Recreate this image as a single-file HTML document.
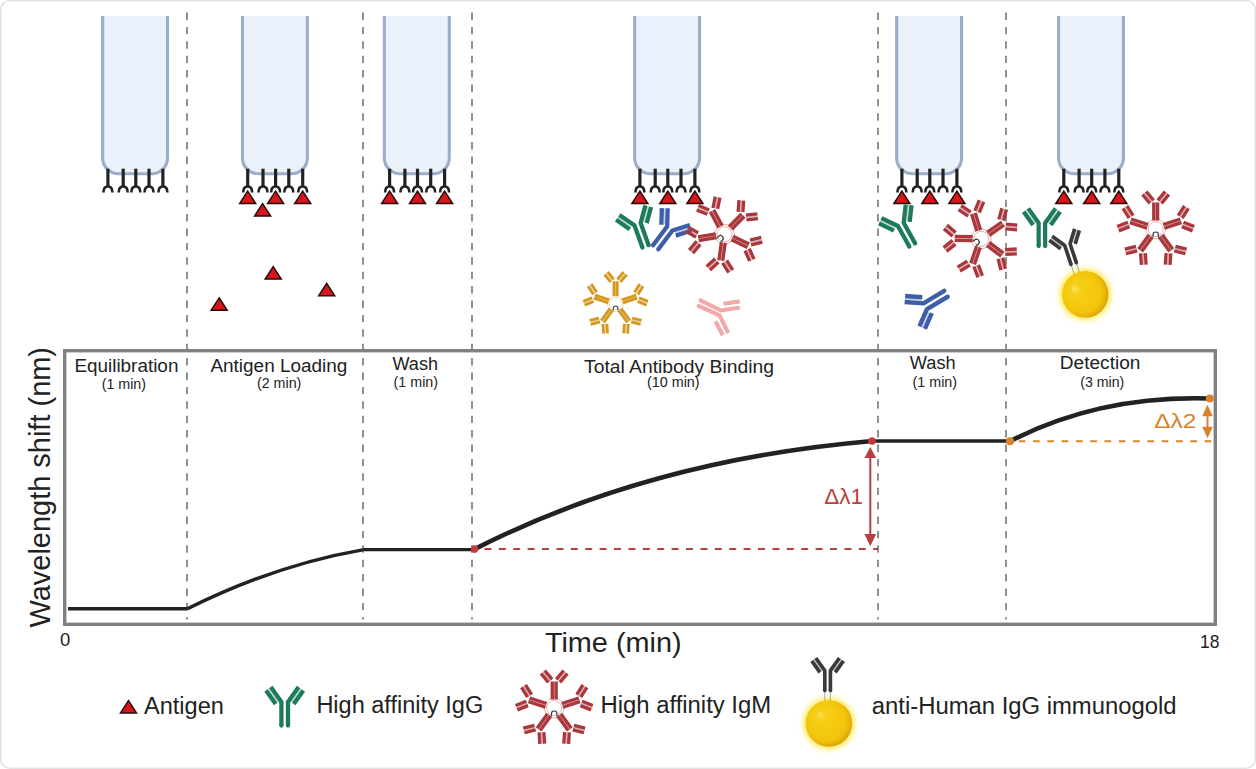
<!DOCTYPE html>
<html><head><meta charset="utf-8">
<style>
html,body{margin:0;padding:0;background:#fff;}
body{width:1256px;height:769px;overflow:hidden;}
svg{display:block;}
text{font-family:"Liberation Sans",sans-serif;}
</style></head>
<body>
<svg width="1256" height="769" viewBox="0 0 1256 769">
<defs>
  <!-- IgG: hinge at origin, stem toward +y -->
  <g id="igg" fill="none" stroke="currentColor" stroke-width="4.3" stroke-linejoin="round">
    <path d="M-6.88 -0.03L-16.26 -13.24M6.88 -0.03L16.26 -13.24" stroke-width="1.3" stroke-opacity="0.3"/>
    <path d="M-3.3 23.5V0L-13.9 -14.9M3.3 23.5V0L13.9 -14.9" />
    <path d="M-9 2.1L-18.6 -11.5M9 2.1L18.6 -11.5"/>
    <circle cx="-3.3" cy="23.5" r="2.15" fill="currentColor" stroke="none"/>
    <circle cx="3.3" cy="23.5" r="2.15" fill="currentColor" stroke="none"/>
  </g>
  <!-- IgM single Y pointing up, center origin -->
  <g id="ym" fill="none" stroke="currentColor" stroke-width="3.3">
    <path d="M0 -8.5V-26.5M-3.95 -27.1L-11.35 -36M3.95 -27.1L11.35 -36" stroke-width="1.6" stroke-opacity="0.4"/>
    <path d="M-1.95 -8.5V-26.5M1.95 -8.5V-26.5"/>
    <path d="M-2.1 -28.6L-9.5 -37.5M-5.8 -25.6L-13.2 -34.5"/>
    <path d="M2.1 -28.6L9.5 -37.5M5.8 -25.6L13.2 -34.5"/>
  </g>
  <g id="igm">
    <polygon points="0,-12 11.41,-3.71 7.05,9.71 -7.05,9.71 -11.41,-3.71" fill="none" stroke="currentColor" stroke-width="0.7" opacity="0.55"/>
    <use href="#ym"/>
    <use href="#ym" transform="rotate(72)"/>
    <use href="#ym" transform="rotate(144)"/>
    <use href="#ym" transform="rotate(216)"/>
    <use href="#ym" transform="rotate(288)"/>
    <circle r="7.5" fill="#fff" stroke="currentColor" stroke-width="0.8" stroke-opacity="0.45"/>
    <path d="M-2.7 8.3V5.7A2.7 2.7 0 0 1 2.7 5.7V8.3" fill="none" stroke="#3a3a3a" stroke-width="1.2"/>
  </g>
  <g id="recep" fill="none" stroke="#222" stroke-linecap="butt">
    <path d="M0 168.7V187" stroke-width="3.2"/>
    <path d="M-4.5 192.6C-4.5 188.6 -3 186.5 0 186.5C3 186.5 4.5 188.6 4.5 192.6" stroke-width="2.6"/>
  </g>
  <polygon id="tri" points="0,-6.2 8,6.2 -8,6.2" fill="#d7161c" stroke="#2a0808" stroke-width="1.5" stroke-linejoin="miter"/>
  <g id="tube">
    <path d="M1.55 16V158A15.8 15.8 0 0 0 17.35 173.8H50.65A15.8 15.8 0 0 0 66.45 158V16" fill="#eaf1fb" stroke="#9badc9" stroke-width="3.1"/>
    <use href="#recep" x="6.8"/>
    <use href="#recep" x="22.1"/>
    <use href="#recep" x="34.7"/>
    <use href="#recep" x="47.9"/>
    <use href="#recep" x="61.8"/>
  </g>
  <g id="tubeag">
    <use href="#tube"/>
    <use href="#tri" x="6.8" y="197.3"/>
    <use href="#tri" x="34.7" y="197.3"/>
    <use href="#tri" x="61.8" y="197.3"/>
  </g>
  <radialGradient id="goldg" cx="0.46" cy="0.46" r="0.54" fx="0.3" fy="0.3">
    <stop offset="0" stop-color="#fae35a"/>
    <stop offset="0.2" stop-color="#f6cf18"/>
    <stop offset="0.78" stop-color="#f3c60c"/>
    <stop offset="0.9" stop-color="#ebb90b"/>
    <stop offset="1" stop-color="#d8a50e"/>
  </radialGradient>
  <radialGradient id="glowg" r="0.5">
    <stop offset="0.7" stop-color="#ffe650" stop-opacity="1"/>
    <stop offset="0.8" stop-color="#fff18a" stop-opacity="0.7"/>
    <stop offset="0.9" stop-color="#fff7c0" stop-opacity="0.35"/>
    <stop offset="1" stop-color="#fffbe0" stop-opacity="0"/>
  </radialGradient>
  <g id="goldab">
    <circle cx="1.3" cy="52.9" r="32" fill="url(#glowg)"/>
    <path d="M-2.8 20V31M2.8 20V31" stroke="#9a9a8a" stroke-width="0.8"/>
    <use href="#igg" color="#3a3a3a" transform="scale(0.85)"/>
    <circle cx="1.3" cy="52.9" r="23.2" fill="url(#goldg)"/>
  </g>
</defs>

<!-- outer border -->
<rect x="0.75" y="0.75" width="1254.5" height="767.5" rx="9" fill="#fff" stroke="#e3e3e3" stroke-width="1.5"/>

<!-- dashed separators -->
<g stroke="#858585" stroke-width="1.8" stroke-dasharray="7.4 7">
  <path d="M187 12.5V619.5M363 12.5V619.5M472 12.5V619.5M878 12.5V619.5M1006 12.5V619.5"/>
</g>

<!-- tubes -->
<use href="#tube" x="101.1"/>
<use href="#tubeag" x="240.9"/>
<use href="#tubeag" x="382.8"/>
<use href="#tubeag" x="633.1"/>
<use href="#tubeag" x="895.1"/>
<use href="#tubeag" x="1057"/>
<use href="#tri" x="262.6" y="209.8"/>
<use href="#tri" x="273.2" y="272.9"/>
<use href="#tri" x="326.7" y="289.6"/>
<use href="#tri" x="219.2" y="304"/>

<!-- antibodies -->
<use href="#igg" color="#1d7a5a" transform="translate(637.5 224.2) rotate(-20)"/>
<use href="#igg" color="#3f5ea9" transform="translate(669.8 228.5) rotate(37)"/>
<use href="#igm" color="#aa373b" transform="translate(724.5 234.2) rotate(44)"/>
<use href="#igm" color="#d5981f" transform="translate(615.6 303.5) scale(0.84)"/>
<g fill="none" stroke="#f2a9aa" stroke-width="4.1" stroke-linejoin="round">
  <path d="M700.6 300.4L721 310.5L739.8 307.4M698.6 305.8L719.6 315.4L728.2 333"/>
  <path d="M723.4 303.8L739.8 301.4M715.4 321.2L722.8 335.2"/>
  <circle cx="700.6" cy="300.4" r="2.05" fill="#f2a9aa" stroke="none"/>
  <circle cx="698.6" cy="305.8" r="2.05" fill="#f2a9aa" stroke="none"/>
</g>
<use href="#igg" color="#1d7a5a" transform="translate(900.8 224.4) rotate(-29)"/>
<use href="#igm" color="#aa373b" transform="translate(981.2 238.8) rotate(55)"/>
<use href="#igg" color="#3f5ea9" transform="translate(925.2 306.3) rotate(239) scale(1.03)"/>
<use href="#igm" color="#aa373b" transform="translate(1155.7 229)"/>
<use href="#igg" color="#1d7a5a" transform="translate(1041.9 223) scale(0.98)"/>
<use href="#goldab" transform="translate(1067.4 244.6) rotate(-18.3)"/>

<!-- chart frame -->
<rect x="64.7" y="350.7" width="1150.6" height="273.6" fill="none" stroke="#7f8080" stroke-width="3.4"/>

<!-- curves -->
<g fill="none" stroke="#222" stroke-linecap="butt">
  <path d="M68 608.8H187.4" stroke-width="3.5"/>
  <path d="M187.4 608.8Q275 565 362.6 549.8" stroke-width="3.4"/>
  <path d="M362.6 549.6H474.6" stroke-width="3.4"/>
  <path d="M474.6 549.1Q650 460 872.7 441" stroke-width="4.6"/>
  <path d="M872.7 441H1010" stroke-width="3.4"/>
  <path d="M1010 441.2Q1100 395 1210 398.5" stroke-width="4.6"/>
</g>
<path d="M484.4 549.1H878" stroke="#b8403f" stroke-width="2" stroke-dasharray="7 7.4" fill="none"/>
<path d="M1018.7 441.2H1213" stroke="#da842d" stroke-width="2" stroke-dasharray="6.7 7.6" fill="none"/>
<circle cx="474.6" cy="549.1" r="3.8" fill="#c8393a"/>
<circle cx="872" cy="441" r="3.8" fill="#c8393a"/>
<circle cx="1010" cy="441.2" r="4" fill="#d9822b"/>
<circle cx="1209.8" cy="398.5" r="4" fill="#d9822b"/>
<!-- arrows -->
<path d="M870.3 456V535" stroke="#b8403f" stroke-width="2"/>
<polygon points="870.3,446.9 876.2,457.9 864.4,457.9" fill="#b8403f"/>
<polygon points="870.3,546.2 876.2,533.9 864.4,533.9" fill="#b8403f"/>
<path d="M1207.5 414V429" stroke="#d9822b" stroke-width="2"/>
<polygon points="1207.5,404.8 1212.8,416.3 1202.2,416.3" fill="#d9822b"/>
<polygon points="1207.5,438.3 1212.8,426.8 1202.2,426.8" fill="#d9822b"/>

<!-- texts -->
<g fill="#222">
  <text x="74.4" y="372.3" font-size="17.5" textLength="104" lengthAdjust="spacingAndGlyphs">Equilibration</text>
  <text x="101.7" y="389" font-size="13.8" textLength="44.3" lengthAdjust="spacingAndGlyphs">(1 min)</text>
  <text x="210.4" y="371.7" font-size="17.5" textLength="137" lengthAdjust="spacingAndGlyphs">Antigen Loading</text>
  <text x="256.9" y="388" font-size="13.8" textLength="44.5" lengthAdjust="spacingAndGlyphs">(2 min)</text>
  <text x="392.5" y="369.7" font-size="17.5" textLength="45.5" lengthAdjust="spacingAndGlyphs">Wash</text>
  <text x="393.6" y="386.5" font-size="13.8" textLength="44.4" lengthAdjust="spacingAndGlyphs">(1 min)</text>
  <text x="584" y="372.8" font-size="17.5" textLength="190" lengthAdjust="spacingAndGlyphs">Total Antibody Binding</text>
  <text x="647" y="386.8" font-size="13.8" textLength="52.6" lengthAdjust="spacingAndGlyphs">(10 min)</text>
  <text x="909.8" y="369.3" font-size="17.5" textLength="45.8" lengthAdjust="spacingAndGlyphs">Wash</text>
  <text x="912.6" y="387" font-size="13.8" textLength="44.4" lengthAdjust="spacingAndGlyphs">(1 min)</text>
  <text x="1059.8" y="369.3" font-size="17.5" textLength="80.6" lengthAdjust="spacingAndGlyphs">Detection</text>
  <text x="1080.2" y="387" font-size="13.8" textLength="44.1" lengthAdjust="spacingAndGlyphs">(3 min)</text>
  <text x="60" y="645.5" font-size="18.5">0</text>
  <text x="1200" y="647.8" font-size="18.5" textLength="19.5" lengthAdjust="spacingAndGlyphs">18</text>
  <text x="544.9" y="652.2" font-size="27.5" textLength="136.7" lengthAdjust="spacingAndGlyphs">Time (min)</text>
  <text transform="translate(50 627.5) rotate(-90)" font-size="30" textLength="280.5" lengthAdjust="spacingAndGlyphs">Wavelength shift (nm)</text>
  <text x="144" y="713.6" font-size="23.5" textLength="79.8" lengthAdjust="spacingAndGlyphs">Antigen</text>
  <text x="316.4" y="712.9" font-size="23.5" textLength="166.8" lengthAdjust="spacingAndGlyphs">High affinity IgG</text>
  <text x="600.4" y="713.4" font-size="23.5" textLength="170.8" lengthAdjust="spacingAndGlyphs">High affinity IgM</text>
  <text x="871.8" y="713.6" font-size="23.5" textLength="304.8" lengthAdjust="spacingAndGlyphs">anti-Human IgG immunogold</text>
</g>
<text x="824.3" y="504" font-size="22" fill="#b8403f" textLength="38.6" lengthAdjust="spacingAndGlyphs">Δλ1</text>
<text x="1154.3" y="428" font-size="20" fill="#d9822b" textLength="42.1" lengthAdjust="spacingAndGlyphs">Δλ2</text>

<!-- legend icons -->
<use href="#tri" x="128.5" y="706.9"/>
<use href="#igg" color="#1d7a5a" transform="translate(284.7 702)"/>
<use href="#igm" color="#aa373b" transform="translate(554.2 708)"/>
<use href="#goldab" transform="translate(827.6 670.6)"/>
</svg>
</body></html>
